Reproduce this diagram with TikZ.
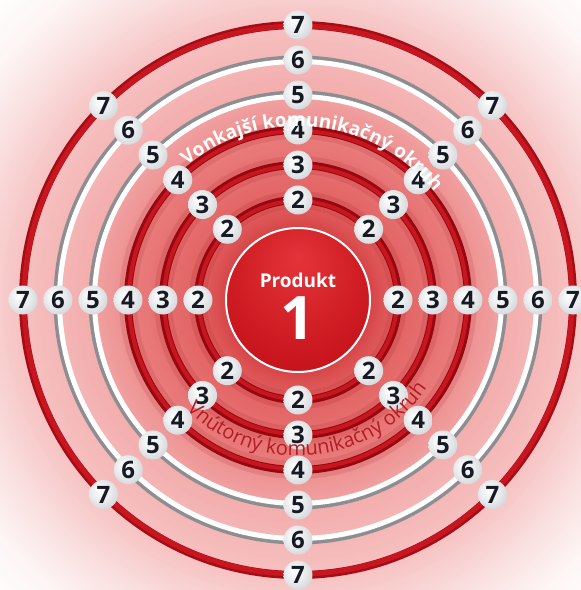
\documentclass[tikz,border=0pt]{standalone}
\usepackage{fontspec}
\setmainfont{Open Sans}
\usetikzlibrary{decorations.text}
\definecolor{bg1}{RGB}{214,66,68}
\definecolor{bg2}{RGB}{226,98,98}
\definecolor{bg3}{RGB}{234,126,126}
\definecolor{bg4}{RGB}{237,142,142}
\definecolor{bg5}{RGB}{241,162,162}
\definecolor{bg6}{RGB}{243,172,172}
\definecolor{bg7}{RGB}{246,192,192}
\definecolor{bg8}{RGB}{250,222,222}
\definecolor{bg9}{RGB}{254,245,245}
\definecolor{ringred}{RGB}{200,22,32}
\definecolor{ringdark}{RGB}{150,8,16}
\definecolor{tubegray}{RGB}{140,142,146}
\definecolor{ball1}{RGB}{232,234,236}
\definecolor{ball2}{RGB}{196,200,205}
\definecolor{ball3}{RGB}{226,228,230}
\definecolor{disk1}{RGB}{228,52,58}
\definecolor{disk2}{RGB}{200,20,28}
\definecolor{disk3}{RGB}{160,10,18}
\definecolor{innertext}{RGB}{178,28,34}
\definecolor{digit}{RGB}{22,26,36}
\pgfdeclareradialshading{ballglow}{\pgfpoint{-8bp}{8bp}}{color(0bp)=(white);
  color(18bp)=(ball1); color(40bp)=(ball2); color(50bp)=(ball3)}
\pgfdeclareradialshading{diskglow}{\pgfpoint{0bp}{15bp}}{color(0bp)=(disk1);
  color(30bp)=(disk2); color(55bp)=(disk3)}
\newcommand\outertextfont{\fontsize{19}{19}\selectfont\bfseries}
\newcommand\innertextfont{\fontsize{20}{20}\selectfont}

\begin{document}
\begin{tikzpicture}[x=1pt,y=1pt,
   ball/.style={circle,minimum size=29,inner sep=0pt,shade,shading=ballglow,
     text=digit,font=\fontsize{24}{24}\selectfont\bfseries},
   disk/.style={circle,minimum size=144,inner sep=0pt,shade,shading=diskglow,
     draw=white,line width=2pt}]
  \useasboundingbox (-298,-290) rectangle (283,300);
  \clip (-298,-290) rectangle (283,300);
  \fill[white] (-298,-290) rectangle (283,300);
  % background glow, outside in
  \foreach \ra/\rb/\ci/\co in {380/430/bg9/white,330/380/bg8/bg9,275/330/bg7/bg8,
      205/275/bg6/bg7,170/205/bg4/bg5,100/170/bg2/bg3,70/100/bg1/bg2}{
    \pgfmathtruncatemacro\rnext{\rb-2}
    \foreach \r in {\rb,\rnext,...,\ra}{
      \pgfmathsetmacro\p{100*(\r-\ra)/(\rb-\ra)}
      \fill[\co!\p!\ci] (0,0) circle (\r);
    }}
  % rings
  \foreach \r in {100,135,170}{
    \draw[ringdark,opacity=.12,line width=18pt] (0,0) circle (\r);
    \draw[ringdark,line width=8pt] (0,0) circle (\r);
    \draw[ringred,line width=4pt] (0,0) circle (\r-1);
  }
  \foreach \r in {205,240}{
    \draw[tubegray,line width=6pt] (0,0) circle (\r+1.5);
    \draw[white,line width=5pt] (0,0) circle (\r-1.5);
  }
  \draw[ringdark!70!ringred,line width=8pt] (0,0) circle (275);
  \draw[ringred,line width=5pt] (0,0) circle (274);
  \node[disk] (prod) at (0,0) {};
  \node[text=white,font=\fontsize{19}{19}\selectfont\bfseries] (prodname) at (0,20) {Produkt};
  \node[text=white,font=\fontsize{60}{60}\selectfont\bfseries] (prodnum) at (0,-18) {1};
  \foreach \a in {0,45,...,315}{
    \foreach \n in {2,...,7}{
      \node[ball] (b\a-\n) at (\a:{35*\n+30}) {\n};
    }}
  \path[decorate,decoration={text along path,text align=center,text color=white,
    text={|\outertextfont|Vonkajší komunikačný okruh}}]
    (135:174) arc[start angle=135,end angle=33,radius=174];
  \path[decorate,decoration={text along path,text align=center,text color=innertext,
    text={|\innertextfont|Vnútorný komunikačný okruh}}]
    (215:156) arc[start angle=215,end angle=335,radius=156];
\end{tikzpicture}
\end{document}
